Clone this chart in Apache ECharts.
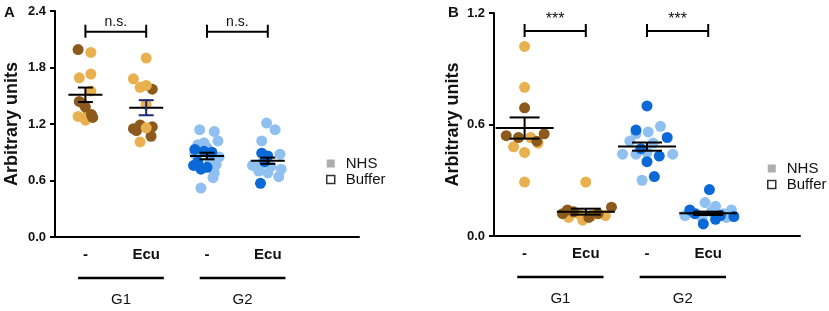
<!DOCTYPE html>
<html>
<head>
<meta charset="utf-8">
<script src="https://cdn.jsdelivr.net/npm/echarts@6/dist/echarts.min.js"></script>
<style>
    html, body { margin: 0; padding: 0; background: #fff; }
    #chart { width: 829px; height: 311px; }
</style>
</head>
<body>
<div id="chart"></div>
<script>
// categories on the x axis (last slot is empty)
const categories = ["-", "Ecu", "-", "Ecu", ""];
const groups = ["G1", "G2"];
const yTicksA = [0, 0.6, 1.2, 1.8, 2.4];
const yTicksB = [0, 0.6, 1.2];

// panel A points: [x position (category index + jitter), value]
const aG1Light = [[0.09, 1.96], [0.09, 1.73], [-0.1, 1.69], [0.09, 1.55], [-0.05, 1.42], [-0.12, 1.28], [0, 1.24], [0.04, 1.3]];
const aG1Dark = [[-0.12, 1.99], [-0.1, 1.44], [0, 1.38], [0.1, 1.3], [0.12, 1.27]];
const aEcuLight = [[1.0, 1.9], [0.79, 1.68], [0.9, 1.59], [1.0, 1.61], [1.0, 1.41], [1.0, 1.16], [0.9, 1.01]];
const aEcuDark = [[1.1, 1.57], [0.79, 1.15], [0.9, 1.19], [1.1, 1.17], [1.08, 1.07], [0.84, 1.13]];
const aG2Light = [[1.88, 1.14], [2.12, 1.12], [2.18, 1.02], [1.95, 1.0], [1.85, 0.98], [2.0, 0.95], [2.2, 0.85], [2.15, 0.77], [2.12, 0.68], [2.1, 0.63], [1.9, 0.52], [1.8, 0.88], [2.05, 0.82]];
const aG2Dark = [[1.8, 0.93], [1.95, 0.91], [2.08, 0.9], [1.78, 0.76], [1.9, 0.72], [2.0, 0.74], [1.85, 0.8]];
const aG2EcuLight = [[2.98, 1.21], [3.12, 1.14], [2.9, 1.02], [3.2, 0.88], [2.75, 0.76], [2.9, 0.78], [3.05, 0.75], [3.22, 0.72], [2.85, 0.7], [3.18, 0.64], [3.0, 0.68]];
const aG2EcuDark = [[2.9, 0.89], [3.0, 0.86], [2.88, 0.57], [2.95, 0.8]];
// mean and SEM per category: [index, mean, sem]
const aMeans = [[0, 1.51, 0.077], [1, 1.373, 0.08], [2, 0.86, 0.035], [3, 0.81, 0.033]];

// panel B points
const bG1Light = [[0, 1.02], [0, 0.8], [0.1, 0.53], [-0.18, 0.48], [0, 0.45], [0.22, 0.5], [0, 0.29]];
const bG1Dark = [[0, 0.69], [-0.3, 0.54], [-0.1, 0.53], [0.2, 0.51], [0.32, 0.55]];
const bEcuLight = [[1.0, 0.29], [0.72, 0.1], [0.95, 0.085], [1.1, 0.11], [1.32, 0.11], [0.88, 0.12]];
const bEcuDark = [[0.62, 0.12], [0.8, 0.13], [1.05, 0.1], [1.2, 0.12], [1.42, 0.155], [0.7, 0.14]];
const bG2Light = [[2.22, 0.59], [2.02, 0.56], [1.82, 0.55], [1.72, 0.51], [1.6, 0.44], [1.82, 0.44], [2.0, 0.45], [2.42, 0.44], [1.92, 0.3], [2.1, 0.5]];
const bG2Dark = [[2.0, 0.7], [1.82, 0.57], [2.33, 0.53], [1.9, 0.47], [2.0, 0.4], [2.2, 0.43], [2.12, 0.32]];
const bG2EcuLight = [[2.95, 0.18], [3.12, 0.16], [3.38, 0.14], [2.62, 0.11], [2.8, 0.12], [3.25, 0.12], [3.05, 0.13], [2.9, 0.1], [3.3, 0.1]];
const bG2EcuDark = [[3.02, 0.25], [2.7, 0.14], [2.92, 0.065], [3.12, 0.09], [3.42, 0.105], [3.2, 0.11], [2.78, 0.12]];
const bMeans = [[0, 0.581, 0.057], [1, 0.131, 0.016], [2, 0.481, 0.022], [3, 0.122, 0.009]];

// significance brackets: [from, to, height]
const aBrackets = [[0, 1, 2.18], [2, 3, 2.18]];
const aBracketText = ["n.s.", "n.s."];
const bBrackets = [[0, 1, 1.103], [2, 3, 1.103]];
const bBracketText = ["***", "***"];

const orangeLight = "#e8b04e";
const orangeDark = "#8c5a1c";
const blueLight = "#8fc0f0";
const blueDark = "#0a69d6";
const errColorsA = ["#000", "#1b2a78", "#000", "#000"];
const errColorsB = ["#000", "#000", "#000", "#000"];
const font = "Liberation Sans, Arial, sans-serif";

const chart = echarts.init(document.getElementById("chart"));

const grids = [
    { left: 55, top: 11, width: 304, height: 226, outerBoundsMode: "none", containLabel: false },
    { left: 494, top: 13, width: 306, height: 223, outerBoundsMode: "none", containLabel: false }
];

const catAxis = gridIndex => ({
    type: "category",
    gridIndex: gridIndex,
    data: categories,
    boundaryGap: true,
    axisLine: { onZero: false, lineStyle: { color: "#000", width: 2 } },
    axisTick: { alignWithLabel: true, length: 6, lineStyle: { color: "#000", width: 2 } },
    axisLabel: { color: "#111", fontFamily: font, fontWeight: "bold", fontSize: 15, margin: 10 },
    splitLine: { show: false }
});

const valXAxis = gridIndex => ({
    type: "value",
    gridIndex: gridIndex,
    min: -0.5,
    max: 4.5,
    show: false
});

const yAxis = (gridIndex, ticks) => ({
    type: "value",
    gridIndex: gridIndex,
    min: 0,
    max: ticks[ticks.length - 1],
    interval: 0.6,
    name: "Arbitrary units",
    nameLocation: "middle",
    nameGap: gridIndex === 0 ? 34 : 32,
    nameTextStyle: { fontFamily: font, fontWeight: "bold", fontSize: 18, color: "#111" },
    axisLine: { show: true, onZero: false, lineStyle: { color: "#000", width: 2 } },
    axisTick: { show: true, length: 5, lineStyle: { color: "#000", width: 2 } },
    axisLabel: {
        color: "#111",
        fontFamily: font,
        fontWeight: "bold",
        fontSize: 13,
        margin: 9,
        formatter: v => v.toFixed(1)
    },
    splitLine: { show: false }
});

const dots = (name, data, xIdx, yIdx, color) => ({
    name: name,
    type: "scatter",
    xAxisIndex: xIdx,
    yAxisIndex: yIdx,
    data: data,
    symbolSize: 11,
    itemStyle: { color: color, opacity: 1 },
    silent: true
});

const meanSeries = (data, xIdx, yIdx, halfMean, halfCap, errColors) => ({
    type: "custom",
    xAxisIndex: xIdx,
    yAxisIndex: yIdx,
    data: data,
    z: 10,
    renderItem: function(params, api) {
        let x = api.value(0), m = api.value(1), s = api.value(2);
        let c = api.coord([x, m]);
        let top = api.coord([x, m + s]);
        let bot = api.coord([x, m - s]);
        let ec = errColors[params.dataIndex];
        return {
            type: "group",
            children: [
                { type: "line", shape: { x1: c[0] - halfMean, y1: c[1], x2: c[0] + halfMean, y2: c[1] }, style: { stroke: "#000", lineWidth: 2 } },
                { type: "line", shape: { x1: c[0], y1: top[1], x2: c[0], y2: bot[1] }, style: { stroke: ec, lineWidth: 2 } },
                { type: "line", shape: { x1: c[0] - halfCap, y1: top[1], x2: c[0] + halfCap, y2: top[1] }, style: { stroke: ec, lineWidth: 2 } },
                { type: "line", shape: { x1: c[0] - halfCap, y1: bot[1], x2: c[0] + halfCap, y2: bot[1] }, style: { stroke: ec, lineWidth: 2 } }
            ]
        };
    }
});

const bracketSeries = (data, labels, xIdx, yIdx, fontSize) => ({
    type: "custom",
    xAxisIndex: xIdx,
    yAxisIndex: yIdx,
    data: data,
    z: 10,
    renderItem: function(params, api) {
        let a = api.coord([api.value(0), api.value(2)]);
        let b = api.coord([api.value(1), api.value(2)]);
        let st = { stroke: "#000", lineWidth: 2 };
        return {
            type: "group",
            children: [
                { type: "line", shape: { x1: a[0], y1: a[1], x2: b[0], y2: b[1] }, style: st },
                { type: "line", shape: { x1: a[0], y1: a[1] - 7, x2: a[0], y2: a[1] + 6 }, style: st },
                { type: "line", shape: { x1: b[0], y1: b[1] - 7, x2: b[0], y2: b[1] + 6 }, style: st },
                {
                    type: "text",
                    style: {
                        text: labels[params.dataIndex],
                        x: (a[0] + b[0]) / 2,
                        y: a[1] - 3,
                        align: "center",
                        verticalAlign: "bottom",
                        fontFamily: font,
                        fontSize: fontSize,
                        fill: "#111"
                    }
                }
            ]
        };
    }
});

const legendItems = [
    { name: "NHS", icon: "rect", itemStyle: { color: "#999", borderWidth: 0 } },
    { name: "Buffer", icon: "rect", itemStyle: { color: "#fff", borderColor: "#000", borderWidth: 1.5 } }
];
const legendBox = (left, top) => ({
    orient: "vertical",
    left: left,
    top: top,
    padding: 0,
    itemWidth: 8,
    itemHeight: 8,
    itemGap: 1,
    selectedMode: false,
    data: legendItems,
    textStyle: { fontFamily: font, fontSize: 15, color: "#111", lineHeight: 14, padding: [0, 0, 0, 6] }
});

let option = {
    backgroundColor: "#fff",
    animation: false,
    title: [
        { text: "A", left: 4, top: 5, padding: 0, textStyle: { fontFamily: font, fontWeight: "bold", fontSize: 15, color: "#111" } },
        { text: "B", left: 448, top: 5, padding: 0, textStyle: { fontFamily: font, fontWeight: "bold", fontSize: 15, color: "#111" } }
    ],
    legend: [legendBox(326, 156), legendBox(767, 161)],
    grid: grids,
    xAxis: [catAxis(0), valXAxis(0), catAxis(1), valXAxis(1)],
    yAxis: [yAxis(0, yTicksA), yAxis(1, yTicksB)],
    series: [
        { name: "NHS", type: "scatter", data: [], xAxisIndex: 1, yAxisIndex: 0 },
        { name: "Buffer", type: "scatter", data: [], xAxisIndex: 1, yAxisIndex: 0 },
        dots("a1", aG1Light, 1, 0, orangeLight),
        dots("a2", aG1Dark, 1, 0, orangeDark),
        dots("a3", aEcuDark, 1, 0, orangeDark),
        dots("a4", aEcuLight, 1, 0, orangeLight),
        dots("a5", aG2Light, 1, 0, blueLight),
        dots("a6", aG2Dark, 1, 0, blueDark),
        dots("a7", aG2EcuLight, 1, 0, blueLight),
        dots("a8", aG2EcuDark, 1, 0, blueDark),
        meanSeries(aMeans, 1, 0, 17, 7.5, errColorsA),
        bracketSeries(aBrackets, aBracketText, 1, 0, 14),
        dots("b1", bG1Light, 3, 1, orangeLight),
        dots("b2", bG1Dark, 3, 1, orangeDark),
        dots("b3", bEcuLight, 3, 1, orangeLight),
        dots("b4", bEcuDark, 3, 1, orangeDark),
        dots("b5", bG2Light, 3, 1, blueLight),
        dots("b6", bG2Dark, 3, 1, blueDark),
        dots("b7", bG2EcuLight, 3, 1, blueLight),
        dots("b8", bG2EcuDark, 3, 1, blueDark),
        meanSeries(bMeans, 3, 1, 29, 15, errColorsB),
        bracketSeries(bBrackets, bBracketText, 3, 1, 16)
    ]
};

chart.setOption(option);

// group underlines and labels below the x axis, placed through the axis scale
const groupStart = [0, 2];
const graphics = [];
[1, 3].forEach((xIdx, panel) => {
    let gridBottom = grids[panel].top + grids[panel].height;
    groupStart.forEach((g, i) => {
        let x1 = chart.convertToPixel({ xAxisIndex: xIdx }, g - 0.12);
        let x2 = chart.convertToPixel({ xAxisIndex: xIdx }, g + 1.29);
        graphics.push({
            type: "line",
            shape: { x1: x1, y1: gridBottom + 41, x2: x2, y2: gridBottom + 41 },
            style: { stroke: "#000", lineWidth: 2.5 }
        });
        graphics.push({
            type: "text",
            style: {
                text: groups[i],
                x: (x1 + x2) / 2,
                y: gridBottom + 63,
                align: "center",
                verticalAlign: "middle",
                fontFamily: font,
                fontSize: 15,
                fill: "#111"
            }
        });
    });
});
chart.setOption({ graphic: graphics });
</script>
</body>
</html>
